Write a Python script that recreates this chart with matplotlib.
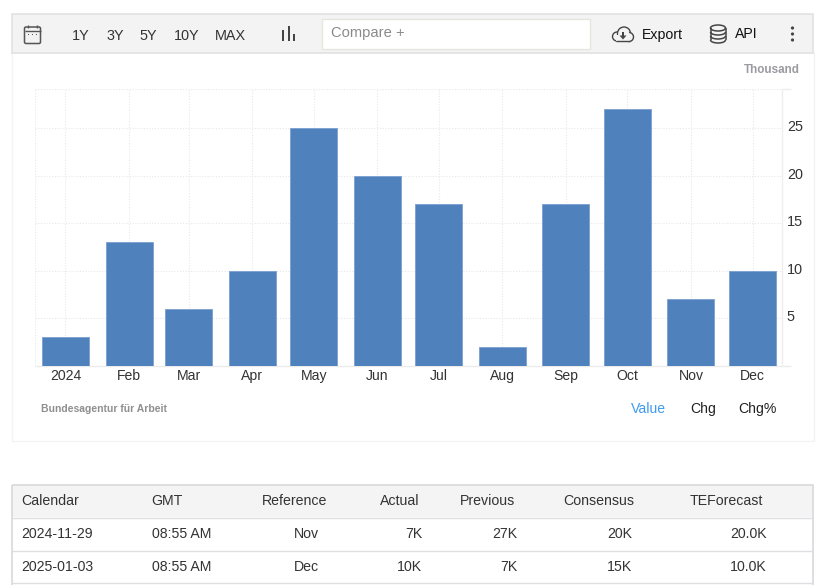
import matplotlib
matplotlib.use("Agg")
import matplotlib.pyplot as plt
from matplotlib.patches import Rectangle, FancyBboxPatch, Ellipse, Circle, Polygon, Arc
from matplotlib.transforms import ScaledTranslation
import matplotlib.dates as mdates
import datetime as dt

plt.rcParams['font.family'] = ['Liberation Sans', 'DejaVu Sans']

months = ["2024", "Feb", "Mar", "Apr", "May", "Jun", "Jul", "Aug", "Sep", "Oct", "Nov", "Dec"]
month_nums = list(range(1, 13))
values = [3, 13, 6, 10, 25, 20, 17, 2, 17, 27, 7, 10]
y_ticks = [5, 10, 15, 20, 25]
range_buttons = ["1Y", "3Y", "5Y", "10Y", "MAX"]
table_header = ["Calendar", "GMT", "Reference", "Actual", "Previous", "Consensus", "TEForecast"]
table_row1 = ["2024-11-29", "08:55 AM", "Nov", "7K", "27K", "20K", "20.0K"]
table_row2 = ["2025-01-03", "08:55 AM", "Dec", "10K", "7K", "15K", "10.0K"]

W, H = 822, 585
fig = plt.figure(figsize=(W / 100, H / 100), dpi=100, facecolor="white")

# page chrome in pixel coordinates
bg = fig.add_axes([0, 0, 1, 1])
bg.set_xlim(0, W)
bg.set_ylim(H, 0)
bg.axis("off")

def rect(x0, y0, x1, y1, fc="none", ec="none", lw=1.0, z=1):
    bg.add_patch(Rectangle((x0, y0), x1 - x0, y1 - y0, fc=fc, ec=ec, lw=lw, zorder=z))

def line(xs, ys, c="#444444", lw=1.0, z=3):
    bg.plot(xs, ys, color=c, lw=lw, zorder=z, solid_capstyle="butt")

def text(x, y, s, size=10.1, c="#222222", ha="left", **kw):
    bg.text(x, y, s, fontsize=size, color=c, ha=ha, va="center", **kw)

# chart panel
rect(11.5, 52, 813.5, 441, ec="#f3f3f3")
# toolbar
rect(12, 14, 813, 52.5, fc="#f3f3f3", ec="#e2e2e2", lw=1.2)
rect(321.5, 18.5, 589.5, 49, fc="white", ec="#e6e6e0", lw=1.0, z=2)

# calendar icon
bg.add_patch(FancyBboxPatch((24.5, 27), 16, 16.5, boxstyle="round,pad=0,rounding_size=1.5",
                            fc="none", ec="#555555", lw=1.1, zorder=3))
line([24.5, 40.5], [31, 31], c="#555555")
line([28, 28], [25, 28], c="#555555")
line([37, 37], [25, 28], c="#555555")
for px in (28.5, 32.5, 36.5):
    rect(px - 0.8, 33.5, px + 0.8, 35, fc="#555555", z=3)

# range buttons
for x, s in zip([72, 106, 139.5, 173.5, 215], range_buttons):
    text(x, 35.5, s, size=10.4, c="#333333")

# bar icon
for x0, top in zip([282, 287.5, 292.5], [30, 26, 34]):
    rect(x0, top, x0 + 2.4, 41, fc="#444444", z=3)

text(331, 33.5, "Compare +", size=10.6, c="#8a8a8a")

# cloud icon
for xy, r in (((617, 36.5), 4.5), ((624, 33.5), 6.5), ((629, 37), 4.5)):
    bg.add_patch(Circle(xy, r, fc="#f3f3f3", ec="#444444", lw=1.0, zorder=3))
rect(616, 35, 630, 41, fc="#f3f3f3", z=4)
bg.add_patch(Circle((624, 34.5), 5.5, fc="#f3f3f3", ec="none", zorder=4))
line([616, 630], [41.2, 41.2], c="#444444", z=5)
bg.add_patch(Polygon([[619.5, 35.5], [626.5, 35.5], [623, 39.5]], fc="#444444", zorder=5))
rect(622, 32, 624.2, 36, fc="#444444", z=5)
text(642, 34.5, "Export", size=10.2, c="#111111")

# database icon
bg.add_patch(Ellipse((718, 28), 15, 6, fc="none", ec="#444444", lw=1.1, zorder=5))
line([710.5, 710.5], [28, 40], c="#444444", lw=1.1, z=5)
line([725.5, 725.5], [28, 40], c="#444444", lw=1.1, z=5)
for cy in (32, 36, 40):
    bg.add_patch(Arc((718, cy), 15, 6, theta1=0, theta2=180, ec="#444444", lw=1.1, zorder=5))
text(735, 34.5, "API", size=10.2, c="#111111")

# kebab menu
for cy in (28, 34, 40):
    bg.add_patch(Circle((792.5, cy), 1.6, fc="#444444", ec="none", zorder=3))

text(800, 70, "Thousand", size=8.4, c="#9a9aa2", ha="right", fontweight="bold")
text(40.5, 409.5, "Bundesagentur für Arbeit", size=7.5, c="#8f8f8f", fontweight="bold")
text(631, 409, "Value", size=10.1, c="#3d9bf0")
text(690, 409, "Chg", size=10.1, c="#222222")
text(738, 409, "Chg%", size=10.1, c="#222222")

# table
rect(12, 485, 813, 517, fc="#f4f4f4", z=1)
rect(12, 485, 813, 590, ec="#d6d6da", lw=1.1, z=2)
for yy in (517.5, 550.5, 582.5):
    line([12, 813], [yy, yy], c="#dedee3", lw=1.0)
header_x = [21.5, 151.5, 262, 380, 460, 563, 690]
for x, s in zip(header_x, table_header):
    text(x, 501, s, size=10.2, c="#333333")
anchors = [(21.5, "left"), (151.5, "left"), (319, "right"), (422, "right"), (517, "right"), (632, "right"), (766.5, "right")]
for (x, ha), a, b in zip(anchors, table_row1, table_row2):
    text(x, 534, a, size=10.2, c="#333333", ha=ha)
    text(x, 567, b, size=10.2, c="#333333", ha=ha)

# chart axes: baseline at y=366 px, 5-unit spacing 47.6 px
x_left, x_right, y_top, y_bot = 35, 782, 89, 366
ax = fig.add_axes([x_left / W, 1 - y_bot / H, (x_right - x_left) / W, (y_bot - y_top) / H])
ax.patch.set_alpha(0)
dates = [dt.date(2024, m, 1) for m in month_nums]
xnum = mdates.date2num(dates)
px_per_day = (752.5 - 65.5) / (xnum[-1] - xnum[0])
ax.set_xlim(xnum[0] - (65.5 - x_left) / px_per_day, xnum[-1] + (x_right - 752.5) / px_per_day)
ax.set_ylim(0, (y_bot - y_top) / 9.52)
ax.bar(xnum, values, width=47 / px_per_day, color="#4f81bd", edgecolor="#7a9fd0", linewidth=0.6, zorder=3)
ax.set_xticks(xnum)
ax.set_xticklabels(months, fontsize=10.1, color="#333333")
ax.set_yticks(y_ticks)
ax.set_yticklabels([str(v) for v in y_ticks], fontsize=10.4, color="#333333")
ax.yaxis.tick_right()
ax.tick_params(axis="x", length=0, pad=2.4)
ax.tick_params(axis="y", length=0, pad=3.5)
lift = ScaledTranslation(0, 1.8 / 72, fig.dpi_scale_trans)
for lbl in ax.get_yticklabels():
    lbl.set_transform(lbl.get_transform() + lift)
ax.grid(True, color="#e8e8e8", linestyle=(0, (1, 1.5)), linewidth=0.8, zorder=0)
ax.axhline(ax.get_ylim()[1], color="#e8e8e8", linestyle=(0, (1, 1.5)), linewidth=0.8, zorder=0)
ax.axvline(ax.get_xlim()[0], color="#e8e8e8", linestyle=(0, (1, 1.5)), linewidth=0.8, zorder=0)
for side in ("top", "left", "bottom"):
    ax.spines[side].set_visible(False)
ax.spines["right"].set_color("#eeeeee")
ax.spines["right"].set_linewidth(1.0)
# axis lines run past the plot to x=791
line([35, 791], [366, 366], c="#ebebeb", z=0.5)
line([782, 791], [89, 89], c="#eeeeee", z=0.5)

fig.savefig("out.png", dpi=100)
